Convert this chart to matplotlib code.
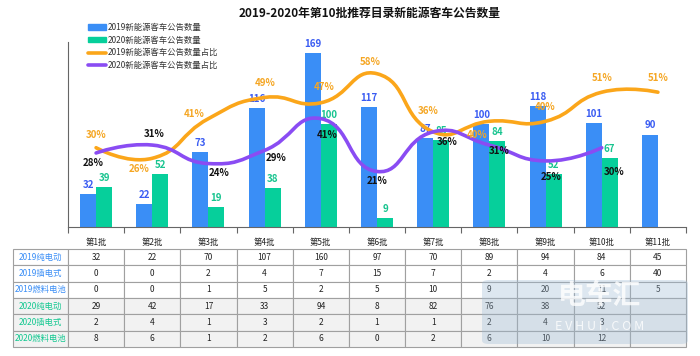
import numpy as np
import matplotlib
matplotlib.use("Agg")
from matplotlib import pyplot as plt
from matplotlib.path import Path
from matplotlib.patches import PathPatch, FancyBboxPatch
from matplotlib.lines import Line2D
from matplotlib.patches import Patch

plt.rcParams['font.family'] = ['Noto Sans CJK SC', 'DejaVu Sans']

# Data
TITLE = "2019-2020年第10批推荐目录新能源客车公告数量"
batches = ["第%d批" % i for i in range(1, 12)]
count_2019 = [32, 22, 73, 116, 169, 117, 87, 100, 118, 101, 90]
count_2020 = [39, 52, 19, 38, 100, 9, 85, 84, 52, 67]
share_2019 = [30, 26, 41, 49, 47, 58, 36, 40, 40, 51, 51]
share_2020 = [28, 31, 24, 29, 41, 21, 36, 31, 25, 30]

row_labels = ["2019纯电动", "2019插电式", "2019燃料电池",
              "2020纯电动", "2020插电式", "2020燃料电池"]
ev_2019 = [32, 22, 70, 107, 160, 97, 70, 89, 94, 84, 45]
phev_2019 = [0, 0, 2, 4, 7, 15, 7, 2, 4, 6, 40]
fcv_2019 = [0, 0, 1, 5, 2, 5, 10, 9, 20, 11, 5]
ev_2020 = [29, 42, 17, 33, 94, 8, 82, 76, 38, 52]
phev_2020 = [2, 4, 1, 3, 2, 1, 1, 2, 4, 3]
fcv_2020 = [8, 6, 1, 2, 6, 0, 2, 6, 10, 12]

legend_labels = ["2019新能源客车公告数量", "2020新能源客车公告数量",
                 "2019新能源客车公告数量占比", "2020新能源客车公告数量占比"]

# Colors
BLUE = '#3a8ef6'
GREEN = '#06cf9b'
ORANGE = '#fba61a'
PURPLE = '#8a4cf3'
BLUE_TXT = '#3a5cf2'
GREEN_TXT = '#18c48f'
ORANGE_TXT = '#f5a623'

# label offsets in pixels (dx, dy) for the percentage labels
off_2019 = [(0, 13), (-13, -11), (-14, 5), (0, 14), (3, 16), (-7, 12),
            (-5, 21), (-12, -14), (0, 14), (0, 14), (0, 14)]
off_2020 = [(-3, -10), (2, 11), (11, -9), (11, -8), (6, -16), (0, -9),
            (14, -10), (10, -6), (6, -16), (12, -24)]

W, H = 700, 356
fig = plt.figure(figsize=(7, 3.56), dpi=100)


def fx(px):
    return px / W


def fy(py):
    return 1 - py / H


ax = fig.add_axes([fx(68), fy(227), 618 / W, 185 / H])
ax2 = ax.twinx()
ax.set_zorder(1)
ax2.set_zorder(2)
ax.patch.set_visible(False)

x = np.arange(len(batches))
bw = 0.285
ax.bar(x - bw / 2, count_2019, bw, color=BLUE, zorder=2)
ax.bar(x[:len(count_2020)] + bw / 2, count_2020, bw, color=GREEN, zorder=2)
for i, v in enumerate(count_2019):
    ax.annotate(str(v), (i - bw / 2, v), xytext=(0, 4), textcoords='offset pixels',
                ha='center', va='bottom', color=BLUE_TXT, fontsize=7, fontweight='bold')
for i, v in enumerate(count_2020):
    ax.annotate(str(v), (i + bw / 2, v), xytext=(0, 4), textcoords='offset pixels',
                ha='center', va='bottom', color=GREEN_TXT, fontsize=7, fontweight='bold')

ax.set_xlim(-0.5, 10.5)
ax.set_ylim(0, 180)
ax2.set_ylim(0, 70)
ax.set_yticks([])
ax2.set_yticks([])
for s in ['top', 'right']:
    ax.spines[s].set_visible(False)
for s in ax2.spines.values():
    s.set_visible(False)
ax.spines['left'].set_color('#666666')
ax.spines['bottom'].set_color('#666666')
ax.spines['left'].set_linewidth(0.8)
ax.spines['bottom'].set_linewidth(0.8)
ax.set_xticks(x)
ax.set_xticklabels(batches, fontsize=6, color='#222222')
ax.set_xticks(np.arange(-0.5, 11, 1), minor=True)
ax.tick_params(axis='x', which='major', length=0, pad=8)
ax.tick_params(axis='x', which='minor', length=4, color='#666666', width=0.8)

# smooth line in the style of echarts (smooth = 0.5)
SX = 618 / 11.0
SY = 185 / 70.0


def smooth_line(axis, xs, ys, color, smooth=0.5):
    px = np.asarray(xs, float) * SX
    py = np.asarray(ys, float) * SY
    n = len(px)
    cin = np.zeros((n, 2))
    cout = np.zeros((n, 2))
    for i in range(n):
        if i == 0 or i == n - 1:
            cin[i] = cout[i] = (px[i], py[i])
            continue
        vx = px[i + 1] - px[i - 1]
        vy = py[i + 1] - py[i - 1]
        d0 = np.hypot(px[i] - px[i - 1], py[i] - py[i - 1])
        d1 = np.hypot(px[i + 1] - px[i], py[i + 1] - py[i])
        r = d1 / (d0 + d1)
        cin[i] = (px[i] - vx * smooth * (1 - r), py[i] - vy * smooth * (1 - r))
        cout[i] = (px[i] + vx * smooth * r, py[i] + vy * smooth * r)
    verts = [(px[0], py[0])]
    codes = [Path.MOVETO]
    for i in range(1, n):
        verts += [tuple(cout[i - 1]), tuple(cin[i]), (px[i], py[i])]
        codes += [Path.CURVE4] * 3
    verts = [(a / SX, b / SY) for a, b in verts]
    patch = PathPatch(Path(verts, codes), facecolor='none', edgecolor=color,
                      lw=2.6, capstyle='round', joinstyle='round', zorder=3)
    axis.add_patch(patch)


smooth_line(ax2, x, share_2019, ORANGE)
smooth_line(ax2, x[:len(share_2020)], share_2020, PURPLE)

for i, v in enumerate(share_2019):
    dx, dy = off_2019[i]
    ax2.annotate("%d%%" % v, (i, v), xytext=(dx, dy), textcoords='offset pixels',
                 ha='center', va='center', color=ORANGE_TXT, fontsize=7,
                 fontweight='bold', zorder=5)
for i, v in enumerate(share_2020):
    dx, dy = off_2020[i]
    ax2.annotate("%d%%" % v, (i, v), xytext=(dx, dy), textcoords='offset pixels',
                 ha='center', va='center', color='#111111', fontsize=7,
                 fontweight='bold', zorder=5)

# legend
handles = [Patch(color=BLUE), Patch(color=GREEN),
           Line2D([], [], color=ORANGE, lw=2.6, solid_capstyle='round'),
           Line2D([], [], color=PURPLE, lw=2.6, solid_capstyle='round')]
fig.legend(handles, legend_labels, loc='upper left', bbox_to_anchor=(fx(82), fy(17)),
           frameon=False, fontsize=6, handlelength=2.2, handleheight=0.6,
           labelspacing=0.45, handletextpad=0.2, borderpad=0.2,
           labelcolor='#333333')

fig.text(fx(370), fy(13), TITLE, ha='center', va='center', fontsize=8.5,
         fontweight='bold', color='#111111')

# table
tax = fig.add_axes([fx(13), fy(347), 673 / W, 98 / H])
tax.axis('off')
rows = [ev_2019, phev_2019, fcv_2019, ev_2020, phev_2020, fcv_2020]
cell_text = []
for lab, r in zip(row_labels, rows):
    vals = [str(v) for v in r] + [''] * (11 - len(r))
    cell_text.append([lab] + vals)
col_w = [55 / 673] + [618 / 673 / 11] * 11
tbl = tax.table(cellText=cell_text, colWidths=col_w, bbox=[0, 0, 1, 1],
                cellLoc='center')
tbl.auto_set_font_size(False)
for (r, c), cell in tbl.get_celld().items():
    cell.set_edgecolor('#a0a0a0')
    cell.set_linewidth(0.8)
    cell.set_facecolor('#ffffff' if r < 3 else '#f2f2f2')
    cell.get_text().set_fontsize(6)
    cell.get_text().set_color('#222222')
    if c == 0:
        cell.get_text().set_color('#3a8ef6' if r < 3 else '#12c890')

# watermark box over table
wm = FancyBboxPatch((fx(482), fy(344)), 206 / W, 64 / H,
                    boxstyle='round,pad=0,rounding_size=0.01',
                    transform=fig.transFigure, facecolor='#9fbcd6', alpha=0.35,
                    edgecolor='none', zorder=10)
fig.patches.append(wm)
fig.text(fx(600), fy(296), "电车汇", ha='center', va='center', fontsize=20,
         fontweight='bold', color='white', alpha=0.8, zorder=11)
fig.text(fx(600), fy(326), "E V H U I . C O M", ha='center', va='center',
         fontsize=9, color='white', alpha=0.8, zorder=11)

fig.savefig("out.png", dpi=100)
